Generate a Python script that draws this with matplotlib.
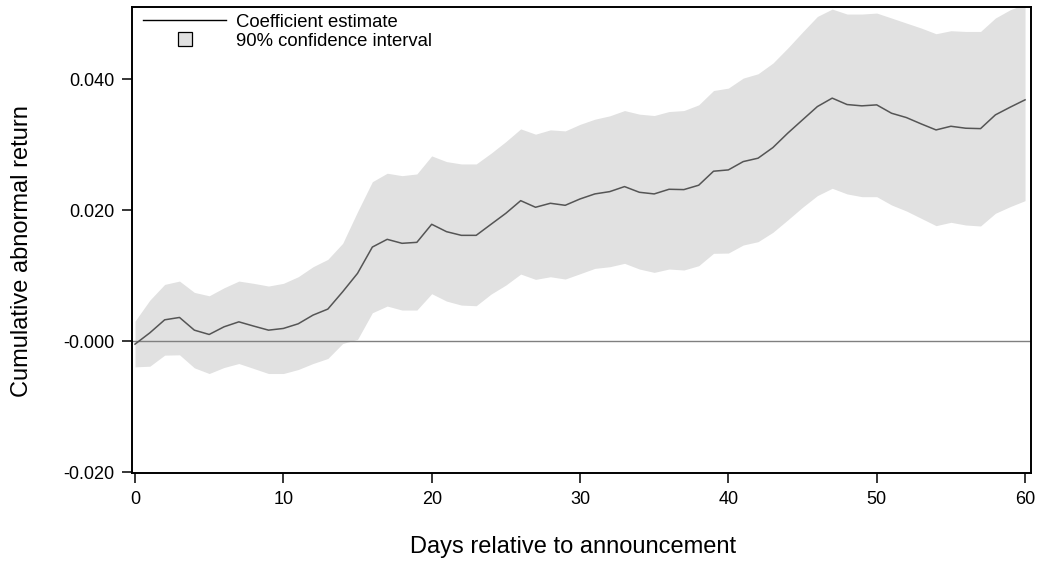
import matplotlib
matplotlib.use("Agg")
import matplotlib.pyplot as plt
from matplotlib.lines import Line2D
import numpy as np

plt.rcParams['font.family'] = ['Liberation Sans', 'DejaVu Sans']

days = list(range(0, 61))

coef = [-0.00046, 0.00127, 0.00326, 0.00362, 0.00168, 0.00102, 0.00219, 0.00295, 0.00230, 0.00168,
        0.00194, 0.00265, 0.00398, 0.00490, 0.00755, 0.01036, 0.01438, 0.01556, 0.01495, 0.01510,
        0.01786, 0.01673, 0.01617, 0.01617, 0.01786, 0.01954, 0.02147, 0.02046, 0.02107, 0.02076,
        0.02173, 0.02250, 0.02285, 0.02362, 0.02275, 0.02250, 0.02321, 0.02316, 0.02383, 0.02597,
        0.02617, 0.02744, 0.02796, 0.02958, 0.03178, 0.03382, 0.03585, 0.03714, 0.03616, 0.03596,
        0.03611, 0.03483, 0.03417, 0.03320, 0.03228, 0.03284, 0.03254, 0.03248, 0.03458, 0.03576,
        0.03688]

upper = [0.00306, 0.00627, 0.00867, 0.00918, 0.00745, 0.00693, 0.00815, 0.00918, 0.00883, 0.00842,
         0.00883, 0.00984, 0.01137, 0.01250, 0.01495, 0.01978, 0.02437, 0.02566, 0.02529, 0.02555,
         0.02831, 0.02744, 0.02708, 0.02708, 0.02872, 0.03050, 0.03244, 0.03163, 0.03229, 0.03213,
         0.03313, 0.03392, 0.03443, 0.03524, 0.03469, 0.03448, 0.03509, 0.03524, 0.03611, 0.03830,
         0.03867, 0.04020, 0.04086, 0.04249, 0.04479, 0.04724, 0.04962, 0.05075, 0.04999, 0.04999,
         0.05014, 0.04938, 0.04861, 0.04785, 0.04698, 0.04744, 0.04733, 0.04733, 0.04938, 0.05065,
         0.05150]

lower = [-0.00393, -0.00383, -0.00214, -0.00209, -0.00408, -0.00495, -0.00403, -0.00342, -0.00418, -0.00495,
         -0.00495, -0.00434, -0.00342, -0.00265, -0.00036, 0.00026, 0.00434, 0.00536, 0.00475, 0.00475,
         0.00725, 0.00612, 0.00551, 0.00541, 0.00719, 0.00857, 0.01025, 0.00944, 0.00984, 0.00949,
         0.01030, 0.01112, 0.01137, 0.01189, 0.01102, 0.01051, 0.01102, 0.01087, 0.01153, 0.01342,
         0.01346, 0.01469, 0.01520, 0.01663, 0.01852, 0.02046, 0.02224, 0.02336, 0.02250, 0.02208,
         0.02208, 0.02081, 0.01989, 0.01877, 0.01765, 0.01816, 0.01775, 0.01760, 0.01954, 0.02056,
         0.02147]

xticks = [0, 10, 20, 30, 40, 50, 60]
yticks = [-0.020, 0.000, 0.020, 0.040]
ytick_labels = ['-0.020', '-0.000', '0.020', '0.040']

fig = plt.figure(figsize=(10.39, 5.62), dpi=100)
ax = fig.add_axes([0.1268, 0.1578, 0.8652, 0.8292])

band_color = '#e1e1e1'
ax.fill_between(days, lower, upper, color=band_color, linewidth=0, zorder=1)
ax.axhline(0, color='#808080', linewidth=1.0, zorder=2)
ax.plot(days, coef, color='#555555', linewidth=1.1, zorder=3)

ax.set_xlim(-0.22, 60.38)
ax.set_ylim(-0.0202, 0.05102)
ax.set_xticks(xticks)
ax.set_yticks(yticks)
ax.set_yticklabels(ytick_labels)

for s in ax.spines.values():
    s.set_linewidth(1.4)
    s.set_color('black')

ax.tick_params(axis='both', direction='out', length=7.5, width=1.1, labelsize=13, pad=5, colors='black')

ax.set_xlabel('Days relative to announcement', fontsize=17)
ax.set_ylabel('Cumulative abnormal return', fontsize=17)
ax.xaxis.set_label_coords(0.4905, -0.1345)
ax.yaxis.set_label_coords(-0.110, 0.476)

h_line = Line2D([], [], color='black', linewidth=1.0)
h_box = Line2D([], [], linestyle='none', marker='s', markersize=9.5,
               markerfacecolor=band_color, markeredgecolor='black', markeredgewidth=0.9)
ax.legend([h_line, h_box], ['Coefficient estimate', '90% confidence interval'],
          loc='upper left', bbox_to_anchor=(0.0056, 1.0), frameon=False, fontsize=13.3,
          handlelength=4.5, handletextpad=0.5, labelspacing=0.1, borderaxespad=0.0,
          borderpad=0.35)

fig.savefig('out.png', dpi=100)
